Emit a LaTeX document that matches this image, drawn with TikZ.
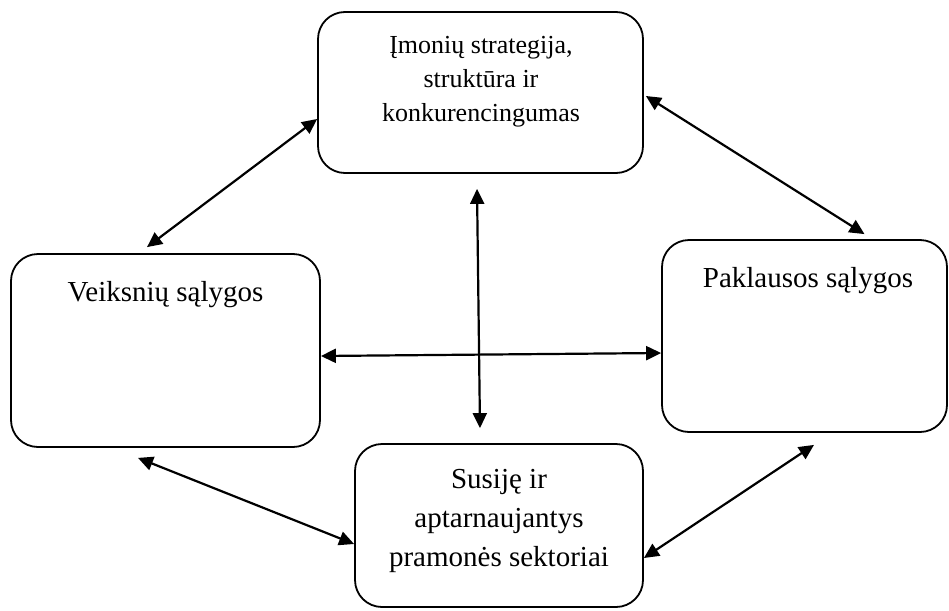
\documentclass[tikz,border=0pt]{standalone}
\usepackage{fontspec}
\setmainfont{Liberation Serif}
\usetikzlibrary{arrows.meta}

\begin{document}
\begin{tikzpicture}[x=1pt, y=-1pt,
  box/.style={draw, line width=1.8pt, rounded corners=27pt, inner sep=0pt},
  label/.style={anchor=base, align=center, inner sep=0pt},
  bigtext/.style={font=\fontsize{29}{39}\selectfont},
  smalltext/.style={font=\fontsize{26}{34}\selectfont},
  link/.style={{Triangle[length=15pt,width=14pt]}-{Triangle[length=15pt,width=14pt]}, line width=2.2pt}]

\useasboundingbox (0,0) rectangle (949,610);

% the four boxes of the diamond
\node[box, minimum width=325pt, minimum height=161pt] (T) at (480.5,92.5) {};
\node[box, minimum width=309pt, minimum height=193pt] (L) at (165.5,350.5) {};
\node[box, minimum width=285pt, minimum height=192pt] (R) at (804.5,336) {};
\node[box, minimum width=288pt, minimum height=163pt] (B) at (499,525.5) {};

% box titles (multi-line titles are placed by the baseline of their last line)
\node[label, smalltext] (Ttext) at (481,121) {Įmonių strategija,\\struktūra ir\\konkurencingumas};
\node[label, bigtext] (Ltext) at (165.5,301) {Veiksnių sąlygos};
\node[label, bigtext] (Rtext) at (808,287) {Paklausos sąlygos};
\node[label, bigtext] (Btext) at (499,566) {Susiję ir\\aptarnaujantys\\pramonės sektoriai};

% two-way links between the boxes
\draw[link] ([xshift=-18.5pt, yshift=6pt]L.north) -- ([yshift=-26.5pt]T.west);
\draw[link] ([xshift=2pt, yshift=-3.5pt]T.east) -- ([xshift=60pt, yshift=5pt]R.north);
\draw[link] ([xshift=-3.5pt, yshift=-15pt]T.south) -- ([xshift=-19pt, yshift=15pt]B.north);
\draw[link] ([yshift=-5.5pt]L.east) -- ([yshift=-17pt]R.west);
\draw[link] ([xshift=-27.5pt, yshift=-10pt]L.south) -- ([yshift=-18.5pt]B.west);
\draw[link] ([yshift=-32.5pt]B.east) -- ([xshift=9.5pt, yshift=-12pt]R.south);
\end{tikzpicture}
\end{document}
